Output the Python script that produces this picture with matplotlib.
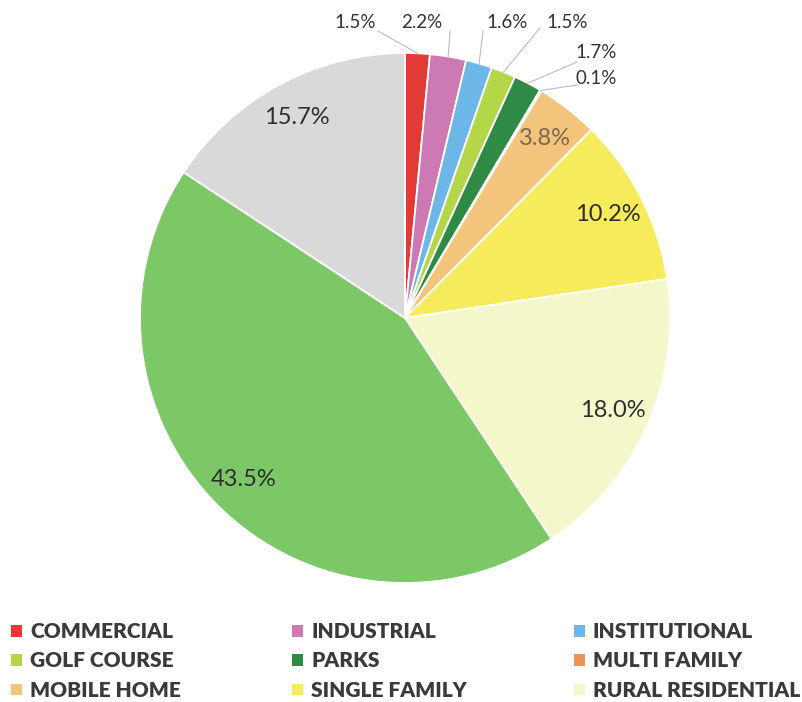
import matplotlib.pyplot as plt
from matplotlib.patches import Patch
import numpy as np

W, H = 803, 702

# land use shares, clockwise from 12 o'clock
shares = [1.5, 2.2, 1.6, 1.5, 1.7, 0.1, 3.8, 10.2, 18.0, 43.5, 15.7]
colors = ["#e23b36", "#cc79b4", "#6db7e8", "#b3d748", "#2f8a46", "#e8955a",
          "#f2c47c", "#f6ec5b", "#f3f7c9", "#7cc766", "#d9d9d9"]
legend_names = ["COMMERCIAL", "INDUSTRIAL", "INSTITUTIONAL",
                "GOLF COURSE", "PARKS", "MULTI FAMILY",
                "MOBILE HOME", "SINGLE FAMILY", "RURAL RESIDENTIAL"]

# small slices get labels above the pie, with leader lines
outer_label_pos = [(355, 22), (422, 22), (507, 22), (567, 22), (596, 52), (596, 78)]
leader_ends = [(378, 31), (450, 31), (483, 31), (540, 28), (577, 62), (577, 85)]

CX, CY, R = 405, 318, 265


def px(x, y):
    return x, H - y


fig = plt.figure(figsize=(W / 100, H / 100), dpi=100)
ax = fig.add_axes([0, 0, 1, 1])

wedges, _ = ax.pie(shares, colors=colors, startangle=90, counterclock=False,
                   center=px(CX, CY), radius=R,
                   wedgeprops=dict(edgecolor="white", linewidth=1.3))
ax.set_xlim(0, W)
ax.set_ylim(0, H)
ax.set_aspect("equal")
ax.axis("off")

cx, cy = px(CX, CY)
for i, (w, v) in enumerate(zip(wedges, shares)):
    mid = np.deg2rad((w.theta1 + w.theta2) / 2)
    txt = f"{v:.1f}%"
    if i < len(outer_label_pos):
        sx, sy = cx + R * np.cos(mid), cy + R * np.sin(mid)
        ex, ey = px(*leader_ends[i])
        ax.plot([sx, ex], [sy, ey], color="#bcbcbc", lw=0.8)
        ax.text(*px(*outer_label_pos[i]), txt, ha="center", va="center",
                fontsize=13.5, family="Lato", color="#333333")
    else:
        r = 0.86 * R
        col = "#7a6a4c" if i == 6 else "#2e2e2e"
        ax.text(cx + r * np.cos(mid), cy + r * np.sin(mid), txt,
                ha="center", va="center", fontsize=17, family="Lato",
                color=col)

# legend: three columns of three
col_x = [0.014, 0.364, 0.715]
for c in range(3):
    idx = [c, c + 3, c + 6]
    handles = [Patch(facecolor=colors[k], edgecolor="none") for k in idx]
    leg = fig.legend(handles, [legend_names[k] for k in idx],
                     loc="upper left", bbox_to_anchor=(col_x[c], 1 - 622 / H),
                     frameon=False, borderpad=0, borderaxespad=0,
                     handlelength=0.5, handleheight=0.5, handletextpad=0.4,
                     labelspacing=0.5,
                     prop=dict(family="Lato", weight="heavy", size=15))
    for t in leg.get_texts():
        t.set_color("#3a3a3a")

fig.savefig("out.png", dpi=100)
